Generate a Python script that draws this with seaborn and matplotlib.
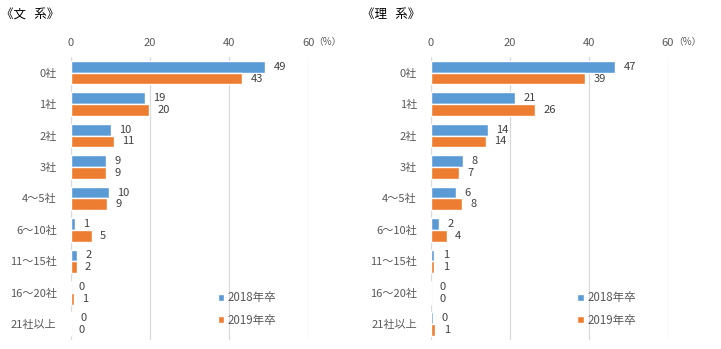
import matplotlib
matplotlib.use("Agg")
import matplotlib.pyplot as plt
import seaborn as sns
import pandas as pd

categories = ["0社", "1社", "2社", "3社", "4～5社", "6～10社", "11～15社", "16～20社", "21社以上"]
years = ["2018年卒", "2019年卒"]
bunkei_2018 = [49.1, 18.8, 10.2, 8.9, 9.6, 1.1, 1.6, 0.0, 0.3]
bunkei_2019 = [43.3, 19.8, 10.9, 8.9, 9.2, 5.3, 1.5, 0.8, 0.0]
rikei_2018 = [46.6, 21.3, 14.4, 8.2, 6.4, 2.2, 0.9, 0.0, 0.5]
rikei_2019 = [39.1, 26.3, 13.9, 7.1, 8.0, 4.0, 0.9, 0.0, 1.2]
titles = ["《文   系》", "《理   系》"]
xticks = [0, 20, 40, 60]

blue = "#5B9BD5"
orange = "#ED7D31"

sns.set_theme(style="white")
plt.rcParams['font.family'] = ['Noto Sans CJK JP', 'DejaVu Sans']

fig = plt.figure(figsize=(7.21, 3.49), dpi=100)
axes_pos = [[0.098, 0.026, 0.3296, 0.811], [0.5974, 0.026, 0.3291, 0.811]]
series = [(bunkei_2018, bunkei_2019), (rikei_2018, rikei_2019)]
title_x = [0.002, 0.502]

for i, (pos, (a, b)) in enumerate(zip(axes_pos, series)):
    ax = fig.add_axes(pos)
    df = pd.DataFrame({
        "cat": categories * 2,
        "val": a + b,
        "year": [years[0]] * len(categories) + [years[1]] * len(categories),
    })
    sns.barplot(data=df, y="cat", x="val", hue="year", orient="h",
                palette=[blue, orange], width=0.75, ax=ax, saturation=1,
                order=categories, hue_order=years, legend=True)
    for cont in ax.containers:
        ax.bar_label(cont, labels=[f"{round(v.get_width()):d}" for v in cont],
                     padding=6, fontsize=8, color="#404040")
    ax.set_xlim(0, 60)
    ax.set_ylim(len(categories) - 0.5, -0.5)
    ax.set_xticks(xticks)
    ax.set_xticklabels([str(t) for t in xticks])
    ax.xaxis.tick_top()
    ax.tick_params(axis="x", length=0, pad=6.5, labelsize=8, labelcolor="#595959")
    ax.tick_params(axis="y", length=0, pad=10, labelsize=8, labelcolor="#595959")
    ax.set_xlabel("")
    ax.set_ylabel("")
    for s in ax.spines.values():
        s.set_visible(False)
    for t in xticks:
        ax.axvline(t, color="#D9D9D9", lw=0.9, zorder=0)
    ax.text(61.3, 1.053, "（%）", transform=ax.get_xaxis_transform(),
            fontsize=7, color="#595959", va="center", ha="left")
    ax.legend(loc="lower right", bbox_to_anchor=(0.91, 0.01), frameon=False,
              fontsize=8.3, handlelength=0.6, handleheight=0.6,
              labelspacing=0.8, handletextpad=0.3, labelcolor="#595959")
    fig.text(title_x[i], 0.958, titles[i], fontsize=9, color="black",
             ha="left", va="center")

fig.savefig("out.png", dpi=100)
